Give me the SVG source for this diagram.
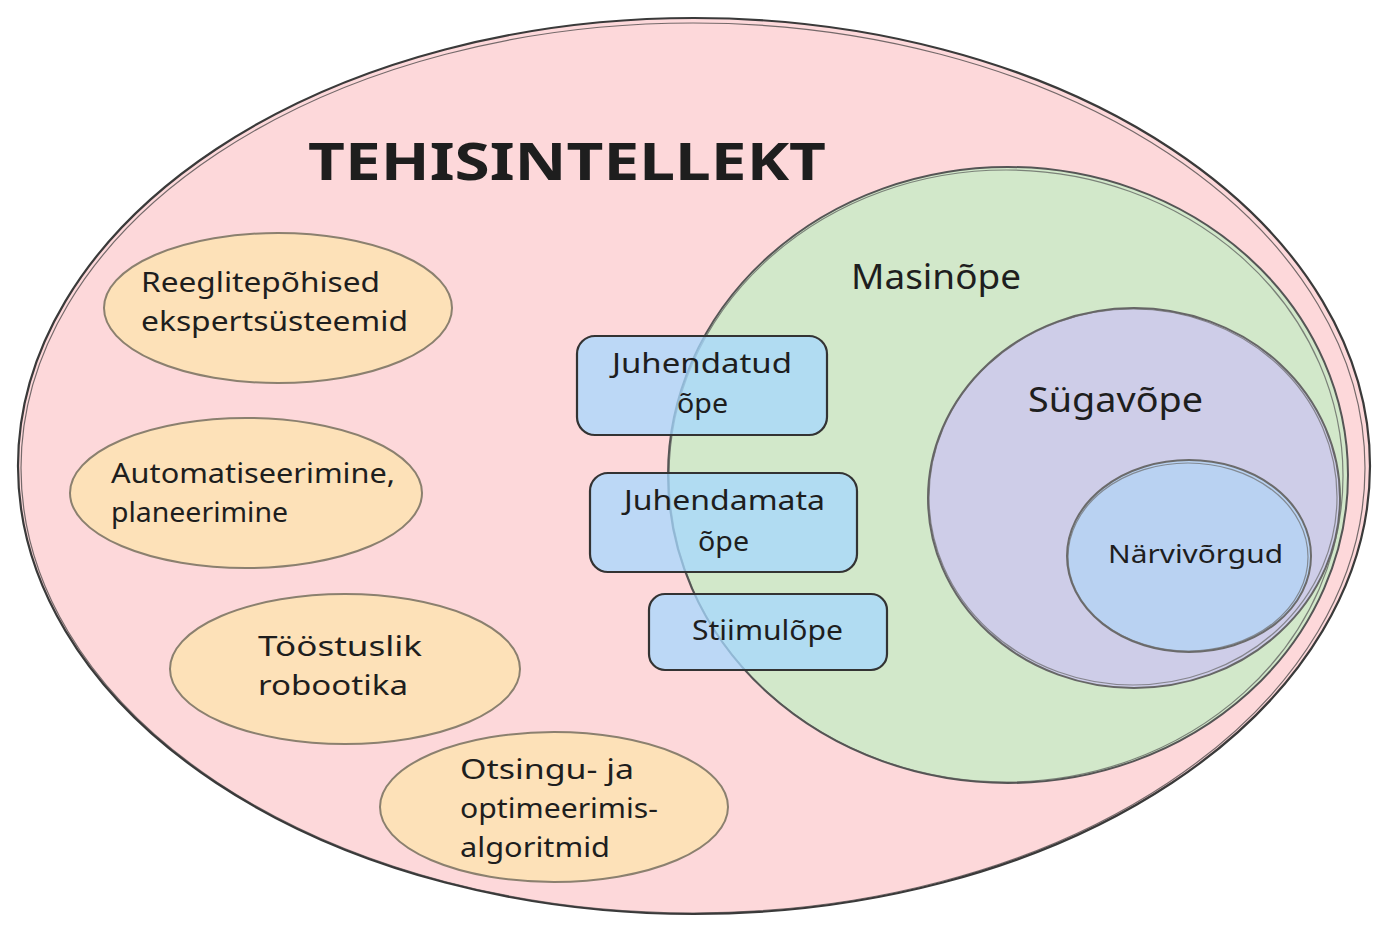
<svg xmlns="http://www.w3.org/2000/svg" width="1388" height="935" viewBox="0 0 1388 935">
<style>
text{font-family:"Noto Sans","Open Sans",sans-serif;fill:#1e1e1e}
.t28{font-size:28px}
.t26{font-size:26px}
.t36{font-size:34px}
.title{font-size:52px;font-weight:bold}
.orange{fill:#fde1b8;stroke:#8b806f;stroke-width:2}
.box{fill:#a5d8ff;fill-opacity:0.75;stroke:#333;stroke-width:2.2}
.sk{fill:none;stroke-width:1.2;stroke-opacity:0.7}
</style>
<rect width="1388" height="935" fill="#ffffff"/>
<g id="tehisintellekt">
<ellipse cx="694" cy="466" rx="676" ry="448" fill="#fdd8da" stroke="#3a3a3a" stroke-width="2.2"/>
<ellipse cx="693" cy="468" rx="672" ry="445" class="sk" stroke="#3a3a3a"/>
<text class="title" x="308" y="180" textLength="518" lengthAdjust="spacingAndGlyphs">TEHISINTELLEKT</text>
</g>
<g id="masinope">
<ellipse cx="1008" cy="475" rx="340" ry="308" fill="#d2e8ca" stroke="#555" stroke-width="2"/>
<ellipse cx="1006" cy="476" rx="337" ry="306" class="sk" stroke="#555"/>
<text class="t36" x="851" y="289" textLength="170" lengthAdjust="spacingAndGlyphs">Masinõpe</text>
</g>
<g id="sugavope">
<ellipse cx="1134" cy="498" rx="206" ry="190" fill="#cecde8" stroke="#666" stroke-width="2"/>
<ellipse cx="1133" cy="497" rx="204" ry="188" class="sk" stroke="#666"/>
<text class="t36" x="1028" y="412" textLength="175" lengthAdjust="spacingAndGlyphs">Sügavõpe</text>
</g>
<g id="narvivorgud">
<ellipse cx="1189" cy="556" rx="122" ry="96" fill="#b9d2f2" stroke="#6b6b6b" stroke-width="2"/>
<ellipse cx="1188" cy="557" rx="120" ry="94" class="sk" stroke="#6b6b6b"/>
<text class="t26" x="1108" y="563" textLength="175" lengthAdjust="spacingAndGlyphs">Närvivõrgud</text>
</g>
<g id="reeglitepohised">
<ellipse class="orange" cx="278" cy="308" rx="174" ry="75"/>
<text class="t28" x="141" y="292" textLength="239" lengthAdjust="spacingAndGlyphs">Reeglitepõhised</text>
<text class="t28" x="141" y="331" textLength="267" lengthAdjust="spacingAndGlyphs">ekspertsüsteemid</text>
</g>
<g id="automatiseerimine">
<ellipse class="orange" cx="246" cy="493" rx="176" ry="75"/>
<text class="t28" x="111" y="483" textLength="284" lengthAdjust="spacingAndGlyphs">Automatiseerimine,</text>
<text class="t28" x="111" y="522" textLength="177" lengthAdjust="spacingAndGlyphs">planeerimine</text>
</g>
<g id="robootika">
<ellipse class="orange" cx="345" cy="669" rx="175" ry="75"/>
<text class="t28" x="258" y="656" textLength="164" lengthAdjust="spacingAndGlyphs">Tööstuslik</text>
<text class="t28" x="258" y="695" textLength="150" lengthAdjust="spacingAndGlyphs">robootika</text>
</g>
<g id="otsingu">
<ellipse class="orange" cx="554" cy="807" rx="174" ry="75"/>
<text class="t28" x="460" y="779" textLength="174" lengthAdjust="spacingAndGlyphs">Otsingu- ja</text>
<text class="t28" x="460" y="818" textLength="198" lengthAdjust="spacingAndGlyphs">optimeerimis-</text>
<text class="t28" x="460" y="857" textLength="150" lengthAdjust="spacingAndGlyphs">algoritmid</text>
</g>
<g id="juhendatud">
<rect class="box" x="577" y="336" width="250" height="99" rx="18"/>
<text class="t28" x="612" y="373" textLength="180" lengthAdjust="spacingAndGlyphs">Juhendatud</text>
<text class="t28" x="677" y="413" textLength="51" lengthAdjust="spacingAndGlyphs">õpe</text>
</g>
<g id="juhendamata">
<rect class="box" x="590" y="473" width="267" height="99" rx="18"/>
<text class="t28" x="624" y="510" textLength="201" lengthAdjust="spacingAndGlyphs">Juhendamata</text>
<text class="t28" x="698" y="551" textLength="51" lengthAdjust="spacingAndGlyphs">õpe</text>
</g>
<g id="stiimulope">
<rect class="box" x="649" y="594" width="238" height="76" rx="16"/>
<text class="t28" x="692" y="640" textLength="151" lengthAdjust="spacingAndGlyphs">Stiimulõpe</text>
</g>
<g id="connectors"></g>
</svg>
